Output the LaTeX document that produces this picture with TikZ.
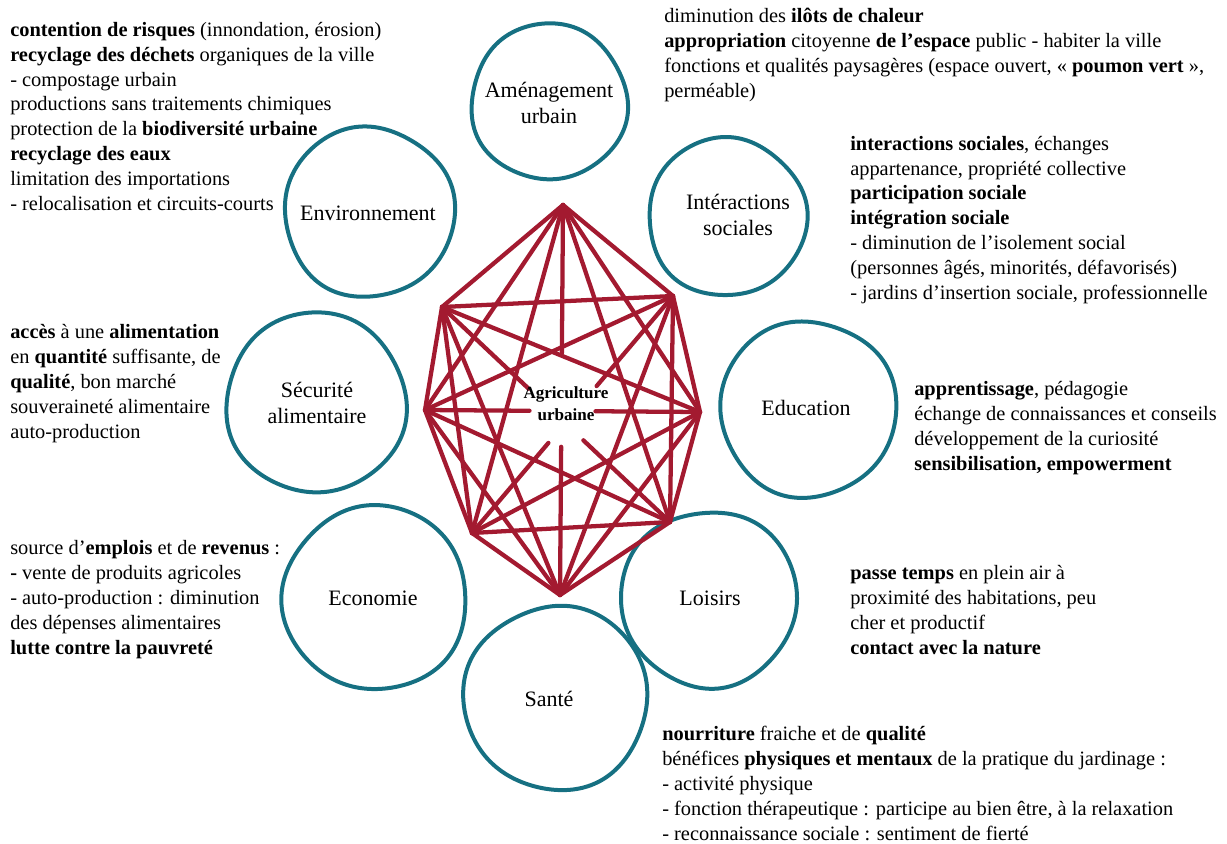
\documentclass[tikz,border=0pt]{standalone}
\usepackage{fontspec}
\setmainfont{Liberation Serif}
\usetikzlibrary{calc}
\definecolor{ringteal}{RGB}{22,112,130}
\definecolor{agred}{RGB}{163,26,48}
\tikzset{
  body/.style={anchor=base west, align=left, inner sep=0pt, font=\fontsize{15.3}{18.6}\selectfont},
  lab/.style={align=center, inner sep=0pt, font=\fontsize{16.5}{19.5}\selectfont},
  ring/.style={draw=ringteal, line width=3pt},
  agedge/.style={draw=agred, line width=3.2pt, line cap=round},
}
\newcommand\wobring[4]{%
  \draw[ring] plot[domain=0:356, samples=90, smooth cycle, variable=\t]
    ({#1+(#3+1.3*sin(3*\t+#4)+0.7*sin(5*\t+2*#4))*cos(\t)},
     {#2+(#3+1.3*sin(3*\t+#4)+0.7*sin(5*\t+2*#4))*sin(\t)});
}
\begin{document}
\begin{tikzpicture}[x=0.75pt,y=-0.75pt]
\useasboundingbox (0,0) rectangle (1227,843);

% rings
\wobring{549}{102}{78}{20}
\wobring{727}{217}{79}{70}
\wobring{808}{409}{88}{130}
\wobring{709}{599}{88}{200}
\wobring{556}{698}{92}{250}
\wobring{375}{598}{92}{310}
\wobring{316}{403}{90}{15}
\wobring{369}{212}{85}{100}

% ring labels
\node[lab] (amen) at (549,103) {Aménagement\\urbain};
\node[lab] (inter) at (738,215) {Intéractions\\sociales};
\node[lab] (educ) at (806,408) {Education};
\node[lab] (lois) at (710,598) {Loisirs};
\node[lab] (sante) at (549,699) {Santé};
\node[lab] (eco) at (373,598) {Economie};
\node[lab] (secu) at (317,403) {Sécurité\\alimentaire};
\node[lab] (envi) at (368,213) {Environnement};

% graph vertices
\coordinate (v1) at (563,205);
\coordinate (v2) at (673,296);
\coordinate (v3) at (700,412);
\coordinate (v4) at (670,522);
\coordinate (v5) at (560,595);
\coordinate (v6) at (472,533);
\coordinate (v7) at (425,410);
\coordinate (v8) at (442,307);

\foreach \a/\b in {1/2,1/3,1/4,1/6,1/7,1/8,
                   2/3,2/4,2/5,2/7,2/8,
                   3/4,3/5,3/6,3/8,
                   4/5,4/6,4/7,
                   5/6,5/7,5/8,
                   6/7,6/8,
                   7/8}
  \draw[agedge] (v\a) -- (v\b);
\foreach \a/\b in {1/5,2/6,3/7,4/8}{
  \draw[agedge] (v\a) -- ($(v\a)!0.38!(v\b)$);
  \draw[agedge] (v\b) -- ($(v\b)!0.38!(v\a)$);
}

\node[align=center, inner sep=0pt, font=\fontsize{12.8}{16.5}\selectfont\bfseries] (agri) at (566,404) {Agriculture\\urbaine};

% text blocks (anchored at the baseline of their last line)
\node[body] (tenv) at (10,210) {\textbf{contention de risques} (innondation, érosion)\\
\textbf{recyclage des déchets} organiques de la ville\\
- compostage urbain\\
productions sans traitements chimiques\\
protection de la \textbf{biodiversité urbaine}\\
\textbf{recyclage des eaux}\\
limitation des importations\\
- relocalisation et circuits-courts};

\node[body] (tamen) at (664,97) {diminution des \textbf{ilôts de chaleur}\\
\textbf{appropriation} citoyenne \textbf{de l’espace} public - habiter la ville\\
fonctions et qualités paysagères (espace ouvert, « \textbf{poumon vert} »,\\
perméable)};

\node[body] (tinter) at (850,299) {\textbf{interactions sociales}, échanges\\
appartenance, propriété collective\\
\textbf{participation sociale}\\
\textbf{intégration sociale}\\
- diminution de l’isolement social\\
(personnes âgés, minorités, défavorisés)\\
- jardins d’insertion sociale, professionnelle};

\node[body] (tsecu) at (10,438) {\textbf{accès} à une \textbf{alimentation}\\
en \textbf{quantité} suffisante, de\\
\textbf{qualité}, bon marché\\
souveraineté alimentaire\\
auto-production};

\node[body] (teduc) at (914,470) {\textbf{apprentissage}, pédagogie\\
échange de connaissances et conseils\\
développement de la curiosité\\
\textbf{sensibilisation, empowerment}};

\node[body] (teco) at (10,654) {source d’\textbf{emplois} et de \textbf{revenus} :\\
\textbf{-} vente de produits agricoles\\
- auto-production : diminution\\
des dépenses alimentaires\\
\textbf{lutte contre la pauvreté}};

\node[body] (tlois) at (850,654) {\textbf{passe temps} en plein air à\\
proximité des habitations, peu\\
cher et productif\\
\textbf{contact avec la nature}};

\node[body] (tsante) at (662,840) {\textbf{nourriture} fraiche et de \textbf{qualité}\\
bénéfices \textbf{physiques et mentaux} de la pratique du jardinage :\\
- activité physique\\
- fonction thérapeutique : participe au bien être, à la relaxation\\
- reconnaissance sociale : sentiment de fierté};
\end{tikzpicture}
\end{document}
